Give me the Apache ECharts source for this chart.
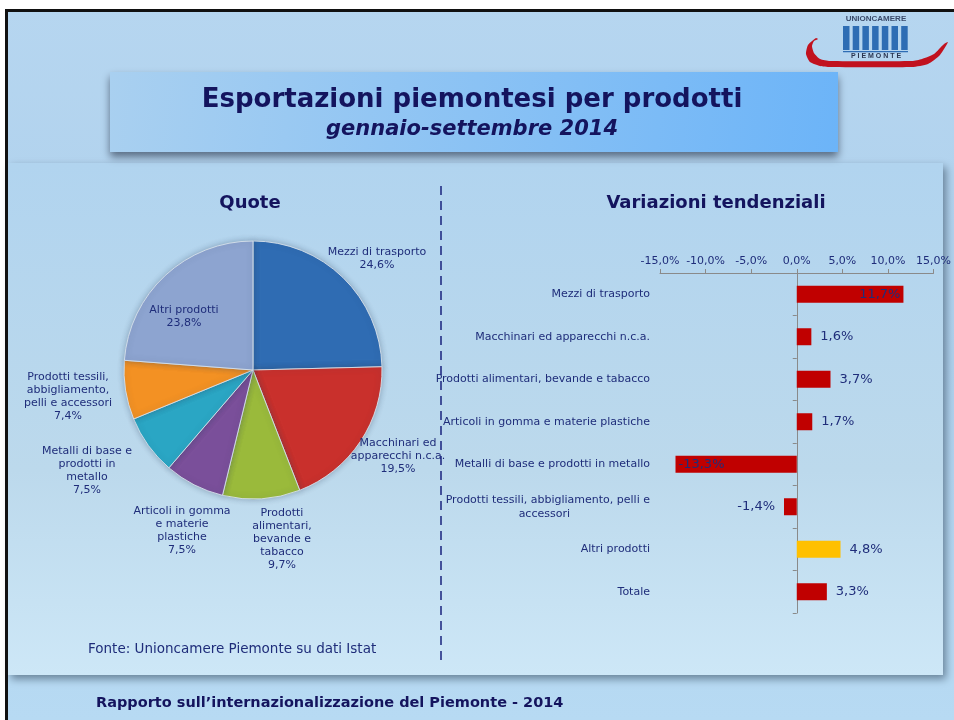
<!DOCTYPE html>
<html>
<head>
<meta charset="utf-8">
<script src="https://cdn.jsdelivr.net/npm/echarts@6/dist/echarts.min.js"></script>
<style>
  html, body { margin: 0; padding: 0; background: #fff; }
  #echarts { width: 954px; height: 720px; }
</style>
</head>
<body>
<div id="echarts"></div>
<script>
// categories shared by the pie (first seven) and the bar chart
const categories = [
	"Mezzi di trasporto",
	"Macchinari ed apparecchi n.c.a.",
	"Prodotti alimentari, bevande e tabacco",
	"Articoli in gomma e materie plastiche",
	"Metalli di base e prodotti in metallo",
	"Prodotti tessili, abbigliamento, pelli e\naccessori",
	"Altri prodotti",
	"Totale",
];
const pieLabels = [
	"Mezzi di trasporto",
	"Macchinari ed\napparecchi n.c.a.",
	"Prodotti\nalimentari,\nbevande e\ntabacco",
	"Articoli in gomma\ne materie\nplastiche",
	"Metalli di base e\nprodotti in\nmetallo",
	"Prodotti tessili,\nabbigliamento,\npelli e accessori",
	"Altri prodotti",
];
const quote = [24.6, 19.5, 9.7, 7.5, 7.5, 7.4, 23.8];
const variazioni = [11.7, 1.6, 3.7, 1.7, -13.3, -1.4, 4.8, 3.3];
const X_MIN = -15;
const X_MAX = 15;
const X_STEP = 5;

const NAVY = "#14145e";
const LABEL = "#1f2d7a";
const FONT = "DejaVu Sans";
const PIE_COLORS = ["#2f6cb3", "#c9302c", "#9aba3b", "#7a4f9a", "#2aa6c4", "#f39123", "#8da4d0"];
const HIGHLIGHT = "Altri prodotti";
// where each pie label block is centred
const PIE_LABEL_POS = [
	[377, 259], [398, 456], [282, 539], [182, 531], [87, 471], [68, 397], [184, 317],
];

const fmt = (v) => v.toFixed(1).replace(".", ",") + "%";

const myChart = echarts.init(document.getElementById("echarts"), null, {
	renderer: "canvas",
	width: 954,
	height: 720,
});

const logoBars = [0, 1, 2, 3, 4, 5, 6].map((i) => ({
	type: "rect", z: 5,
	shape: { x: 843 + i * 9.7, y: 26, width: 6.5, height: 24 },
	style: { fill: "#2e6db4" },
}));

const option = {
	animation: false,
	backgroundColor: {
		type: "linear", x: 0, y: 0, x2: 0, y2: 1,
		colorStops: [
			{ offset: 0, color: "#b6d6f0" },
			{ offset: 0.5, color: "#aed0ec" },
			{ offset: 1, color: "#b7daf3" },
		],
	},
	graphic: [
		// slide frame
		{ type: "rect", z: -10, shape: { x: 0, y: 0, width: 954, height: 9 }, style: { fill: "#fff" } },
		{ type: "rect", z: -10, shape: { x: 0, y: 0, width: 5, height: 720 }, style: { fill: "#fff" } },
		{ type: "rect", z: -9, shape: { x: 5, y: 9, width: 949, height: 3 }, style: { fill: "#111" } },
		{ type: "rect", z: -9, shape: { x: 5, y: 9, width: 3, height: 711 }, style: { fill: "#111" } },
		// content panel
		{
			type: "rect", z: -10,
			shape: { x: 8, y: 163, width: 935, height: 512 },
			style: {
				fill: {
					type: "linear", x: 0, y: 0, x2: 0, y2: 1,
					colorStops: [
						{ offset: 0, color: "#b1d4ef" },
						{ offset: 0.6, color: "#bcd9ec" },
						{ offset: 1, color: "#cde7f7" },
					],
				},
				shadowBlur: 8, shadowOffsetX: 3, shadowOffsetY: 4, shadowColor: "rgba(40,60,80,0.55)",
			},
		},
		// title box
		{
			type: "rect", z: -8,
			shape: { x: 110, y: 72, width: 728, height: 80 },
			style: {
				fill: {
					type: "linear", x: 0, y: 0, x2: 1, y2: 1,
					colorStops: [
						{ offset: 0, color: "#a9d0f0" },
						{ offset: 1, color: "#6cb4f8" },
					],
				},
				shadowBlur: 8, shadowOffsetY: 5, shadowColor: "rgba(30,40,60,0.6)",
			},
		},
		// logo
		{
			type: "polygon", z: 5,
			shape: {
				points: [
					[816, 38], [808, 45], [806, 54], [810, 62], [820, 66], [830, 67], [912, 67],
					[928, 64], [940, 55], [948, 42], [944, 44], [934, 54], [922, 59], [912, 61],
					[830, 61], [820, 59], [814, 53], [812, 46], [814, 41], [818, 39],
				],
				smooth: 0.2,
			},
			style: { fill: "#c1121f" },
		},
		{ type: "text", z: 5, style: { text: "UNIONCAMERE", x: 876, y: 19, align: "center", verticalAlign: "middle", font: "bold 8px 'Liberation Sans'", fill: "#3a4a6a" } },
		...logoBars,
		{ type: "rect", z: 5, shape: { x: 843, y: 51, width: 65, height: 1.2 }, style: { fill: "#2e6db4" } },
		{ type: "text", z: 5, style: { text: "P I E M O N T E", x: 876, y: 56.5, align: "center", verticalAlign: "middle", font: "bold 7px 'Liberation Sans'", fill: "#2a3550" } },
		// texts
		{ type: "text", z: 5, style: { text: "Esportazioni piemontesi per prodotti", x: 472, y: 100, align: "center", verticalAlign: "middle", font: `bold 26px '${FONT}'`, fill: NAVY } },
		{ type: "text", z: 5, style: { text: "gennaio-settembre 2014", x: 472, y: 130, align: "center", verticalAlign: "middle", font: `italic bold 21px '${FONT}'`, fill: NAVY } },
		{ type: "text", z: 5, style: { text: "Quote", x: 250, y: 203, align: "center", verticalAlign: "middle", font: `bold 18px '${FONT}'`, fill: NAVY } },
		{ type: "text", z: 5, style: { text: "Variazioni tendenziali", x: 716, y: 203, align: "center", verticalAlign: "middle", font: `bold 18px '${FONT}'`, fill: NAVY } },
		{ type: "text", z: 5, style: { text: "Fonte: Unioncamere Piemonte su dati Istat", x: 88, y: 649, verticalAlign: "middle", font: `13.5px '${FONT}'`, fill: LABEL } },
		{ type: "text", z: 5, style: { text: "Rapporto sull’internazionalizzazione del Piemonte - 2014", x: 96, y: 703, verticalAlign: "middle", font: `bold 14.5px '${FONT}'`, fill: NAVY } },
		// divider
		{ type: "line", z: 5, shape: { x1: 441, y1: 186, x2: 441, y2: 662 }, style: { stroke: "#1a237e", lineWidth: 1.5, lineDash: [9, 6] } },
	],
	grid: {
		left: 660,
		right: 20,
		top: 273,
		bottom: 107,
	},
	xAxis: {
		type: "value",
		position: "top",
		min: X_MIN,
		max: X_MAX,
		interval: X_STEP,
		axisLine: { show: true, lineStyle: { color: "#8a8a8a" } },
		axisTick: { show: true, length: 4, lineStyle: { color: "#8a8a8a" } },
		axisLabel: { formatter: (v) => fmt(v), color: LABEL, fontSize: 11, fontFamily: FONT, margin: 6 },
		splitLine: { show: false },
	},
	yAxis: [
		{
			type: "category",
			data: categories,
			inverse: true,
			position: "left",
			axisLine: { show: false, onZero: false },
			axisTick: { show: false },
			axisLabel: {
				color: LABEL,
				fontSize: 11,
				fontFamily: FONT,
				margin: 10,
				lineHeight: 14,
				formatter: (v) => {
					const parts = v.split("\n");
					if (parts.length === 1) return v;
					return "{a|" + parts[0] + "}\n{b|" + parts[1] + "}";
				},
				rich: {
					a: { color: LABEL, fontSize: 11, fontFamily: FONT, lineHeight: 14 },
					b: { color: LABEL, fontSize: 11, fontFamily: FONT, lineHeight: 14, padding: [0, 80, 0, 0] },
				},
			},
			splitLine: { show: false },
		},
		{
			type: "category",
			data: categories,
			inverse: true,
			position: "left",
			axisLine: { show: true, onZero: true, lineStyle: { color: "#8a8a8a" } },
			axisTick: { show: true, length: 4, lineStyle: { color: "#8a8a8a" } },
			axisLabel: { show: false },
			splitLine: { show: false },
		},
	],
	series: [
		{
			type: "pie",
			center: [253, 370],
			radius: 129,
			startAngle: 90,
			clockwise: true,
			data: quote.map((v, i) => ({ name: categories[i], value: v })),
			color: PIE_COLORS,
			itemStyle: {
				borderColor: "rgba(215,225,235,0.9)",
				borderWidth: 1,
				shadowBlur: 6,
				shadowColor: "rgba(40,60,90,0.35)",
			},
			label: {
				show: true,
				formatter: (p) => pieLabels[p.dataIndex] + "\n" + fmt(p.value),
				color: LABEL,
				fontSize: 11,
				fontFamily: FONT,
				lineHeight: 13,
				align: "center",
				overflow: "none",
			},
			labelLine: { show: false },
			labelLayout: (p) => ({
				x: PIE_LABEL_POS[p.dataIndex][0],
				y: PIE_LABEL_POS[p.dataIndex][1],
				align: "center",
				verticalAlign: "middle",
			}),
		},
		{
			type: "bar",
			yAxisIndex: 0,
			barWidth: 17,
			data: variazioni.map((v, i) => ({
				value: v,
				itemStyle: { color: categories[i] === HIGHLIGHT ? "#ffc000" : "#c00000" },
				label: {
					position: Math.abs(v) > 10 ? (v > 0 ? "insideRight" : "insideLeft") : (v >= 0 ? "right" : "left"),
					distance: Math.abs(v) > 10 ? 3 : 9,
				},
			})),
			label: {
				show: true,
				formatter: (p) => fmt(p.value),
				color: LABEL,
				fontSize: 13,
				fontFamily: FONT,
				textBorderWidth: 0,
				textBorderColor: "transparent",
			},
		},
	],
};
myChart.setOption(option);
</script>
</body>
</html>
